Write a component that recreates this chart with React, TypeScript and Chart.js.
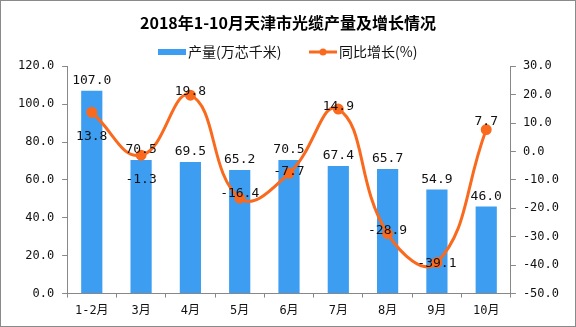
import { useEffect, useRef } from "react";
import { Chart, registerables } from "chart.js";

Chart.register(...registerables);

const categories = ["1-2月", "3月", "4月", "5月", "6月", "7月", "8月", "9月", "10月"];
const outputValues = [107.0, 70.5, 69.5, 65.2, 70.5, 67.4, 65.7, 54.9, 46.0];
const growthValues = [13.8, -1.3, 19.8, -16.4, -7.7, 14.9, -28.9, -39.1, 7.7];
const barLabel = "产量(万芯千米)";
const lineLabel = "同比增长(%)";
const titleText = "2018年1-10月天津市光缆产量及增长情况";

const BAR_COLOR = "#3d9df0";
const LINE_COLOR = "#fa6a1e";
const AXIS_COLOR = "#888888";
const NUM_FONT = "'DejaVu Sans Mono', 'Noto Sans CJK SC', monospace";

// style: vertical offsets for the growth labels (px, relative to point)
const growthLabelDy = [24, 24, -4, -4, -2, -2, -3, 1, -8];

const decorPlugin = {
  id: "decor",
  beforeDraw(chart: any) {
    const ctx = chart.ctx;
    ctx.save();
    ctx.fillStyle = "#ffffff";
    ctx.fillRect(0, 0, chart.width, chart.height);
    ctx.restore();
  },
  afterDatasetsDraw(chart: any) {
    const ctx = chart.ctx;
    ctx.save();
    ctx.fillStyle = "#111";
    ctx.textAlign = "center";
    ctx.textBaseline = "middle";
    ctx.font = "13px " + NUM_FONT;
    const barMeta = chart.getDatasetMeta(0);
    barMeta.data.forEach((el: any, i: number) => {
      ctx.fillText(outputValues[i].toFixed(1), el.x, el.y - 10);
    });
    const lineMeta = chart.getDatasetMeta(1);
    lineMeta.data.forEach((el: any, i: number) => {
      ctx.fillText(growthValues[i].toFixed(1), el.x, el.y + growthLabelDy[i]);
    });
    ctx.restore();
  },
  afterDraw(chart: any) {
    const ctx = chart.ctx;
    ctx.save();
    const ly = 52;
    ctx.font = "14px 'Noto Sans CJK SC', sans-serif";
    ctx.textBaseline = "middle";
    ctx.textAlign = "left";
    ctx.fillStyle = BAR_COLOR;
    ctx.fillRect(158, ly - 3, 28, 6);
    ctx.fillStyle = "#111";
    ctx.fillText(barLabel, 188, ly);
    ctx.strokeStyle = LINE_COLOR;
    ctx.lineWidth = 3;
    ctx.beginPath();
    ctx.moveTo(309, ly);
    ctx.lineTo(337, ly);
    ctx.stroke();
    ctx.fillStyle = LINE_COLOR;
    ctx.beginPath();
    ctx.arc(323, ly, 3.5, 0, Math.PI * 2);
    ctx.fill();
    ctx.fillStyle = "#111";
    ctx.fillText(lineLabel, 339, ly);
    ctx.strokeStyle = "#8a8a8a";
    ctx.lineWidth = 1;
    ctx.strokeRect(0.5, 0.5, chart.width - 1, chart.height - 1);
    ctx.restore();
  },
};

export default function App() {
  const ref = useRef<HTMLCanvasElement | null>(null);
  useEffect(() => {
    if (!ref.current) return;
    const chart = new Chart(ref.current, {
      type: "bar",
      data: {
        labels: categories,
        datasets: [
          {
            type: "bar",
            label: barLabel,
            data: outputValues,
            backgroundColor: BAR_COLOR,
            yAxisID: "y",
            barPercentage: 0.43,
            categoryPercentage: 1,
            order: 2,
          },
          {
            type: "line",
            label: lineLabel,
            data: growthValues,
            borderColor: LINE_COLOR,
            backgroundColor: LINE_COLOR,
            borderWidth: 3,
            pointRadius: 4,
            pointBackgroundColor: LINE_COLOR,
            pointBorderColor: LINE_COLOR,
            tension: 0.45,
            yAxisID: "y1",
            order: 1,
          } as any,
        ],
      },
      options: {
        animation: false,
        responsive: true,
        maintainAspectRatio: false,
        layout: { padding: { left: 10, right: 10, top: 0, bottom: 3 } },
        plugins: {
          legend: { display: false },
          tooltip: { enabled: false },
          title: {
            display: true,
            text: titleText,
            color: "#000",
            font: { size: 16, weight: "bold", family: "'Noto Sans CJK SC', sans-serif" },
            padding: { top: 13, bottom: 34 },
          },
        },
        scales: {
          x: {
            grid: { display: true, drawOnChartArea: false, drawTicks: true, tickLength: 4, color: AXIS_COLOR, offset: true },
            border: { display: true, color: AXIS_COLOR },
            ticks: { color: "#111", font: { size: 12, family: NUM_FONT }, padding: 6, maxRotation: 0, autoSkip: false },
          },
          y: {
            position: "left",
            min: 0,
            max: 120,
            grid: { display: true, drawOnChartArea: false, drawTicks: true, tickLength: 5, color: AXIS_COLOR },
            border: { display: true, color: AXIS_COLOR },
            ticks: {
              stepSize: 20,
              color: "#111",
              font: { size: 12, family: NUM_FONT },
              padding: 8,
              callback: (v: any) => Number(v).toFixed(1),
            },
          },
          y1: {
            position: "right",
            min: -50,
            max: 30,
            grid: { display: true, drawOnChartArea: false, drawTicks: true, tickLength: 5, color: AXIS_COLOR },
            border: { display: true, color: AXIS_COLOR },
            ticks: {
              stepSize: 10,
              color: "#111",
              font: { size: 12, family: NUM_FONT },
              padding: 7,
              callback: (v: any) => Number(v).toFixed(1),
            },
          },
        },
      } as any,
      plugins: [decorPlugin],
    });
    return () => chart.destroy();
  }, []);
  return (
    <div style={{ position: "fixed", left: 0, top: 0, width: 576, height: 327 }}>
      <canvas ref={ref} style={{ width: "100%", height: "100%" }} />
    </div>
  );
}
